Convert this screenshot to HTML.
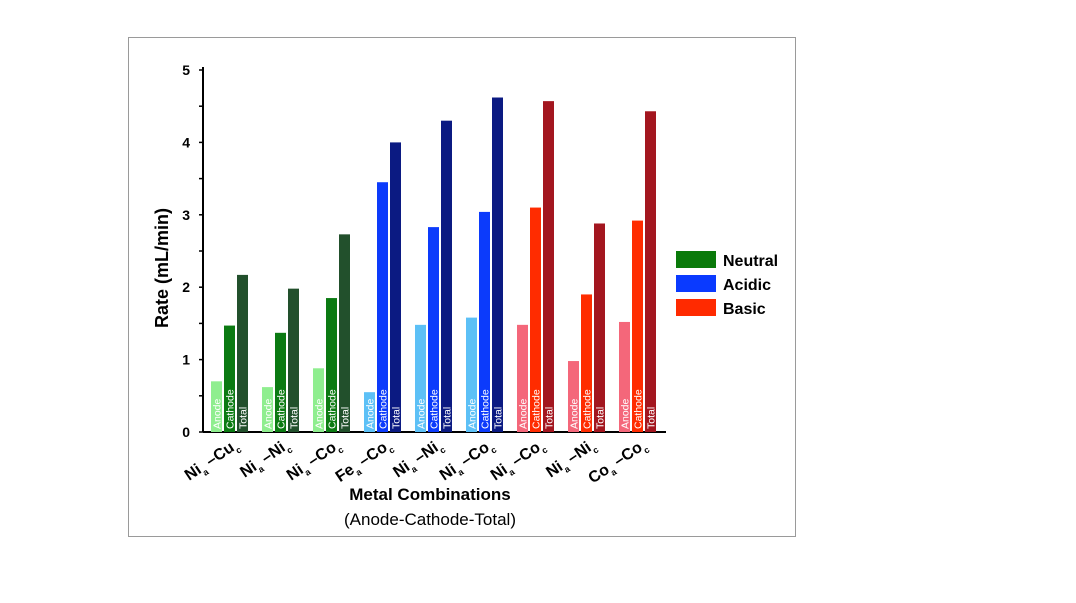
<!DOCTYPE html>
<html><head><meta charset="utf-8"><style>
body{margin:0;background:#fff;width:1076px;height:598px;overflow:hidden}
svg{font-family:"Liberation Sans",Arial,sans-serif}
</style></head><body>
<svg id="chart" width="1076" height="598">
<rect x="128.5" y="37.5" width="667" height="499" fill="#fff" stroke="#9a9a9a"/>
<g id="plot"></g>
<text x="0" y="0" transform="translate(168,268) rotate(-90)" text-anchor="middle" font-weight="bold" font-size="18">Rate (mL/min)</text>
<text x="430" y="500" text-anchor="middle" font-weight="bold" font-size="17">Metal Combinations</text>
<text x="430" y="525" text-anchor="middle" font-size="17">(Anode-Cathode-Total)</text>
<g>
<rect x="676" y="251" width="40" height="17" fill="#0a7a0a"/>
<text x="723" y="266" font-weight="bold" font-size="16">Neutral</text>
<rect x="676" y="275" width="40" height="17" fill="#0a3aff"/>
<text x="723" y="290" font-weight="bold" font-size="16">Acidic</text>
<rect x="676" y="299" width="40" height="17" fill="#ff2a00"/>
<text x="723" y="314" font-weight="bold" font-size="16">Basic</text>
</g>
</svg>
<script>
const anodeNames=["Ni","Ni","Ni","Fe","Ni","Ni","Ni","Ni","Co"];
const cathodeNames=["Cu","Ni","Co","Co","Ni","Co","Co","Ni","Co"];
const anodeValues=[0.70,0.62,0.88,0.55,1.48,1.58,1.48,0.98,1.52];
const cathodeValues=[1.47,1.37,1.85,3.45,2.83,3.04,3.10,1.90,2.92];
const totalValues=[2.17,1.98,2.73,4.00,4.30,4.62,4.57,2.88,4.43];
const groupCondition=["neutral","neutral","neutral","acidic","acidic","acidic","basic","basic","basic"];
const yTicks=[0,1,2,3,4,5];
const barLabels=["Anode","Cathode","Total"];
const colors={neutral:["#8fee8f","#0b7a12","#22502c"],acidic:["#5cc0f6","#0c3bfb","#0b1a82"],basic:["#f4677a","#ff2c00","#a3161f"]};
const NS="http://www.w3.org/2000/svg";
const plot=document.getElementById('plot');
const y0=432,yPer=72.4,axisX=203,gx0=211,gStep=51,bStep=13,bW=11;
const yScale=v=>y0-v*yPer;
const xScale=(g,k)=>gx0+g*gStep+k*bStep;
function mk(t,a){const e=document.createElementNS(NS,t);for(const k in a)e.setAttribute(k,a[k]);return e;}
let ax=mk('line',{x1:axisX,y1:yScale(5)-3,x2:axisX,y2:y0,stroke:'#000','stroke-width':2});


plot.appendChild(ax);
let bx=mk('line',{x1:axisX,y1:y0,x2:666,y2:y0,stroke:'#000','stroke-width':2});


plot.appendChild(bx);
for(let v=0;v<=5;v+=0.5){const t=mk('line',{x1:axisX-4,x2:axisX,y1:yScale(v),y2:yScale(v),stroke:'#000','stroke-width':1.5});


plot.appendChild(t);}
yTicks.forEach(v=>{const t=mk('text',{x:axisX-13,y:yScale(v)+5,'text-anchor':'end','font-size':14,'font-weight':'bold'});t.textContent=v;


plot.appendChild(t);});
const series=[anodeValues,cathodeValues,totalValues];
for(let g=0;g<anodeNames.length;g++){
 series.forEach((arr,k)=>{
  const x=xScale(g,k),v=arr[g];
  const r=mk('rect',{x:x,y:yScale(v),width:bW,height:y0-yScale(v),fill:colors[groupCondition[g]][k]});
  
  
  plot.appendChild(r);
  const t=mk('text',{transform:`translate(${x+bW/2+4},${y0-3}) rotate(-90)`,'font-size':10.5,fill:'#fff'});
  t.textContent=barLabels[k];
  
  
  plot.appendChild(t);
 });
 const cx=xScale(g,1)+bW/2+10;
 const t=mk('text',{transform:`translate(${cx},${y0+15}) rotate(-34)`,'text-anchor':'end','font-size':16,'font-weight':'bold'});
 t.innerHTML=`${anodeNames[g]}<tspan font-size="9" dy="5">a</tspan><tspan dy="-5"> –${cathodeNames[g]}</tspan><tspan font-size="9" dy="5">c</tspan>`;
 
 
 plot.appendChild(t);
}
</script>
</body></html>
